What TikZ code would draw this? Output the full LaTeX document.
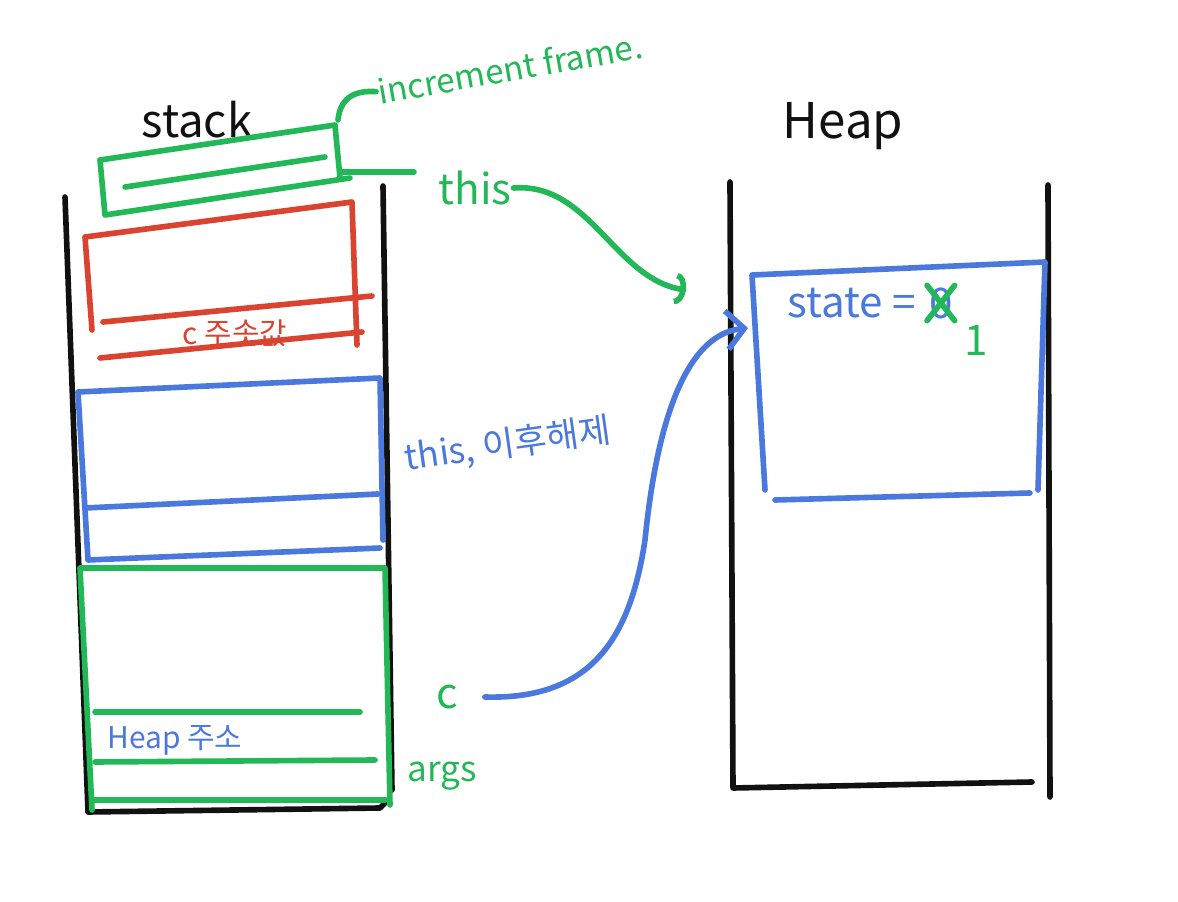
\documentclass[tikz,border=0pt]{standalone}
\usepackage{fontspec}
\setmainfont{Noto Sans CJK KR}
\usetikzlibrary{arrows.meta, positioning}
\definecolor{penblack}{HTML}{111111}
\definecolor{pengreen}{HTML}{22B857}
\definecolor{penred}{HTML}{D9432F}
\definecolor{penblue}{HTML}{4A78DC}

\begin{document}
\begin{tikzpicture}[
    x=0.02cm, y=-0.02cm,
    pen/.style={draw=#1, line width=3.2pt, line cap=round, line join=round},
    hand/.style={text=#1, inner sep=1pt},
    hookarr/.style={pen=#1, -{Arc Barb[length=6pt, width=18pt]}},
    barbarr/.style={pen=#1, -{Straight Barb[length=10pt, width=22pt]}},
]
    \useasboundingbox (0,0) rectangle (1178,902);

    % titles
    \node[hand=penblack, font=\fontsize{26}{28}\selectfont] (stacklbl) at (197,120) {stack};
    \node[hand=penblack, font=\fontsize{28}{30}\selectfont] (heaplbl) at (843,126) {Heap};

    % stack walls
    \draw[pen=penblack] (65,197) -- (88,812) -- (380,808) -- (388,800);
    \draw[pen=penblack] (383,186) -- (392,790);
    % heap walls
    \draw[pen=penblack] (730,182) -- (733,788) -- (1032,782);
    \draw[pen=penblack] (1048,185) -- (1050,797);

    % new frame on top
    \draw[pen=pengreen] (100,160) -- (335,125) -- (340,178);
    \draw[pen=pengreen] (100,160) -- (105,215) -- (350,178);
    \draw[pen=pengreen] (125,187) -- (325,157);
    \node[hand=pengreen, font=\fontsize{19}{21}\selectfont, rotate=10] (incfr) at (510,68) {increment frame.};
    \draw[pen=pengreen] (338,120) .. controls (340,100) and (352,90) .. (incfr.west);
    \node[hand=pengreen, font=\fontsize{24}{26}\selectfont] (thisref) at (475,188) {this};
    \draw[pen=pengreen] (342,172) -- ([xshift=-0.45cm]thisref.west |- 0,172);

    % red frame
    \draw[pen=penred] (92,330) -- (85,237) -- (352,202) -- (357,345);
    \draw[pen=penred] (103,322) -- (372,296);
    \draw[pen=penred] (100,358) -- (362,332);
    \node[hand=penred, font=\fontsize{17}{19}\selectfont] (caddr) at (235,333) {c 주솟값};

    % blue frame
    \draw[pen=penblue] (383,540) -- (380,378) -- (78,392) -- (88,560) -- (380,548);
    \draw[pen=penblue] (85,508) -- (378,494);
    \node[hand=penblue, font=\fontsize{20}{22}\selectfont, rotate=8] (thisnote) at (508,445) {this, 이후해제};

    % green frame (main)
    \draw[pen=pengreen] (92,810) -- (80,568) -- (385,568) -- (390,805);
    \draw[pen=pengreen] (95,712) -- (360,712);
    \draw[pen=pengreen] (95,762) -- (375,760);
    \draw[pen=pengreen] (95,800) -- (385,800);
    \node[hand=penblue, font=\fontsize{17}{19}\selectfont] (heapaddr) at (175,740) {Heap 주소};
    \node[hand=pengreen, font=\fontsize{24}{26}\selectfont] (cref) at (447,697) {c};
    \node[hand=pengreen, font=\fontsize{20}{22}\selectfont] (argslbl) at (442,776) {args};

    % heap object
    \draw[pen=penblue] (765,490) -- (752,275) -- (1045,262) -- (1038,490);
    \draw[pen=penblue] (775,500) -- (1030,493);
    \node[hand=penblue, font=\fontsize{24}{26}\selectfont] (statelbl) at (852,303) {state =};
    \node[hand=penblue, font=\fontsize{24}{26}\selectfont, right=5pt of statelbl] (oldval) {0};
    \draw[pen=pengreen] (oldval.north west) -- (oldval.south east);
    \draw[pen=pengreen] (oldval.north east) -- (oldval.south west);
    \node[hand=pengreen, font=\fontsize{24}{26}\selectfont, below right=0.05cm and 0.15cm of oldval] (newval) {1};

    \coordinate (objtop) at (686,290);
    \coordinate (objin) at (748,328);

    % references
    \draw[hookarr=pengreen] (thisref.east) .. controls (590,182) and (615,280) .. (objtop);
    \draw[barbarr=penblue] ([xshift=0.5cm]cref.east) .. controls (590,700) and (630,640) .. (645,540)
        .. controls (655,440) and (680,335) .. (objin);
\end{tikzpicture}
\end{document}
